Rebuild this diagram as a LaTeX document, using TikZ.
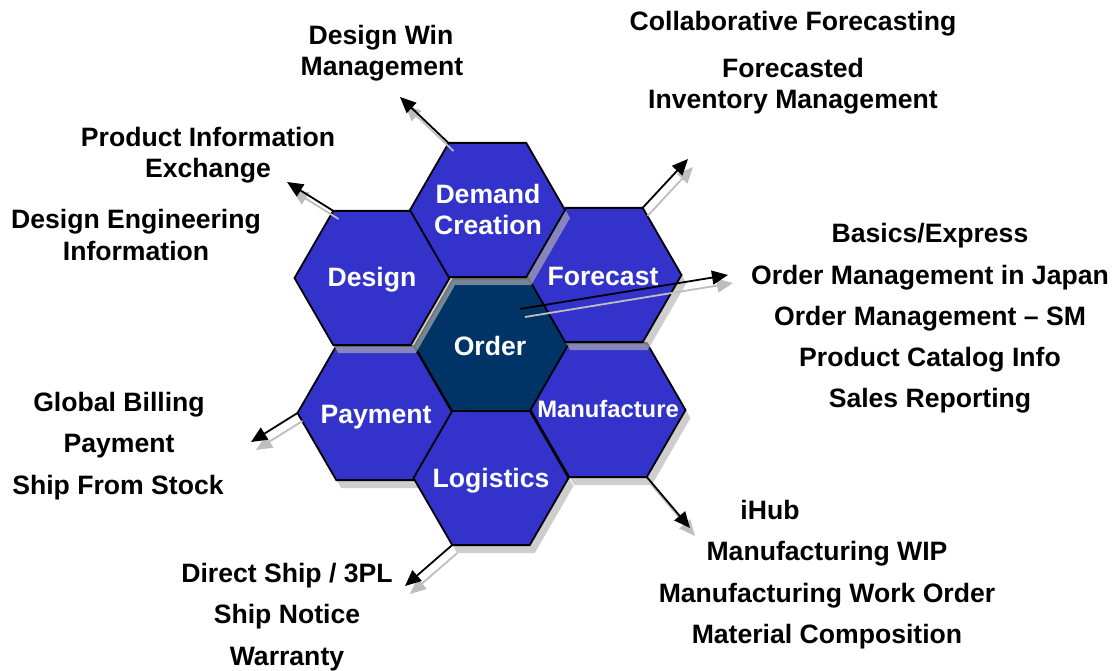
\documentclass[tikz,border=0pt]{standalone}
\usepackage{fontspec}
\setmainfont{Liberation Sans}
\usetikzlibrary{arrows.meta}
\definecolor{hexblue}{RGB}{51,51,204}
\definecolor{hexnavy}{RGB}{0,51,102}
\definecolor{shadeg}{RGB}{180,180,180}
\definecolor{arrshade}{RGB}{190,190,190}
\begin{document}
\begin{tikzpicture}[x=1pt,y=-1pt,
  hexagon/.pic={\path[pic actions] (77.5,0) -- (38.75,67.1) -- (-38.75,67.1) -- (-77.5,0) -- (-38.75,-67.1) -- (38.75,-67.1) -- cycle;},
  hexbody/.style={fill=hexblue,draw=black,line width=1.8pt,line join=miter},
  hexshade/.style={fill=shadeg,opacity=.65},
  lbl/.style={font=\bfseries\fontsize{26.6}{30}\selectfont,anchor=base,inner sep=0pt},
  inlbl/.style={lbl,text=white},
  link/.style={line width=1.8pt,draw=black,-{Triangle[length=16pt,width=14pt]}},
  linkshade/.style={line width=1.8pt,draw=arrshade,-{Triangle[length=16pt,width=14pt,fill=arrshade]}}
]
\useasboundingbox (0,0) rectangle (1119,671);

% hexagons (shadow first, then body)
\pic[hexshade] at (497,354) {hexagon};
\pic[hexbody,fill=hexnavy] at (492,346) {hexagon};
\pic[hexshade] at (380,421) {hexagon};
\pic[hexbody] at (375,413) {hexagon};
\pic[hexshade] at (496,486) {hexagon};
\pic[hexbody] at (491,478) {hexagon};
\pic[hexshade] at (613,418) {hexagon};
\pic[hexbody] at (608,410) {hexagon};
\pic[hexshade] at (609,283) {hexagon};
\pic[hexbody] at (604,275) {hexagon};
\pic[hexshade] at (377,286) {hexagon};
\pic[hexbody] at (372,278) {hexagon};
\pic[hexshade] at (492.5,218) {hexagon};
\pic[hexbody] at (487.5,210) {hexagon};

% hexagon labels
\node[inlbl] (demand1) at (488,204) {Demand};
\node[inlbl] (demand2) at (488,235) {Creation};
\node[inlbl] (design) at (372,286) {Design};
\node[inlbl] (forecast) at (603,285) {Forecast};
\node[inlbl] (order) at (490,355) {Order};
\node[inlbl] (payment) at (376,423) {Payment};
\node[inlbl,font=\bfseries\fontsize{23.8}{28}\selectfont] (manufacture) at (608,417) {Manufacture};
\node[inlbl] (logistics) at (491,487) {Logistics};

% arrow end points
\coordinate (dw0) at (448.5,143);  \coordinate (dw1) at (400,97);
\coordinate (pi0) at (333.5,211);  \coordinate (pi1) at (287,182);
\coordinate (fc0) at (642.5,208);  \coordinate (fc1) at (688,159);
\coordinate (or0) at (520,309);    \coordinate (or1) at (728,275);
\coordinate (pa0) at (297.5,413);  \coordinate (pa1) at (251,442);
\coordinate (lo0) at (452.25,545); \coordinate (lo1) at (405,586);
\coordinate (ma0) at (646.75,477); \coordinate (ma1) at (690,528);

\foreach \a/\b in {dw0/dw1,pi0/pi1,fc0/fc1,or0/or1,pa0/pa1,lo0/lo1,ma0/ma1}{
  \draw[linkshade] ([shift={(5,8)}]\a) -- ([shift={(5,8)}]\b);
  \draw[link] (\a) -- (\b);
}

% outer labels
\node[lbl] (dwm1) at (381,45) {Design Win};
\node[lbl] (dwm2) at (382,76) {Management};
\node[lbl] (pie1) at (208,147) {Product Information};
\node[lbl] (pie2) at (208,178) {Exchange};
\node[lbl] (dei1) at (136,229) {Design Engineering};
\node[lbl] (dei2) at (136,260) {Information};
\node[lbl] (cf) at (793,31) {Collaborative Forecasting};
\node[lbl] (fim1) at (793,78) {Forecasted};
\node[lbl] (fim2) at (793,109) {Inventory Management};
\node[lbl] (be) at (930,243) {Basics/Express};
\node[lbl] (omj) at (930,284) {Order Management in Japan};
\node[lbl] (omsm) at (930,325) {Order Management – SM};
\node[lbl] (pci) at (930,366) {Product Catalog Info};
\node[lbl] (sr) at (930,407) {Sales Reporting};
\node[lbl] (gb) at (119,411) {Global Billing};
\node[lbl] (pay) at (119,452) {Payment};
\node[lbl] (sfs) at (118,494) {Ship From Stock};
\node[lbl] (ds) at (287,582) {Direct Ship / 3PL};
\node[lbl] (sn) at (287,623) {Ship Notice};
\node[lbl] (wa) at (287,665) {Warranty};
\node[lbl] (ihub) at (770,519) {iHub};
\node[lbl] (mwip) at (827,560) {Manufacturing WIP};
\node[lbl] (mwo) at (827,602) {Manufacturing Work Order};
\node[lbl] (mc) at (827,643) {Material Composition};
\end{tikzpicture}
\end{document}
